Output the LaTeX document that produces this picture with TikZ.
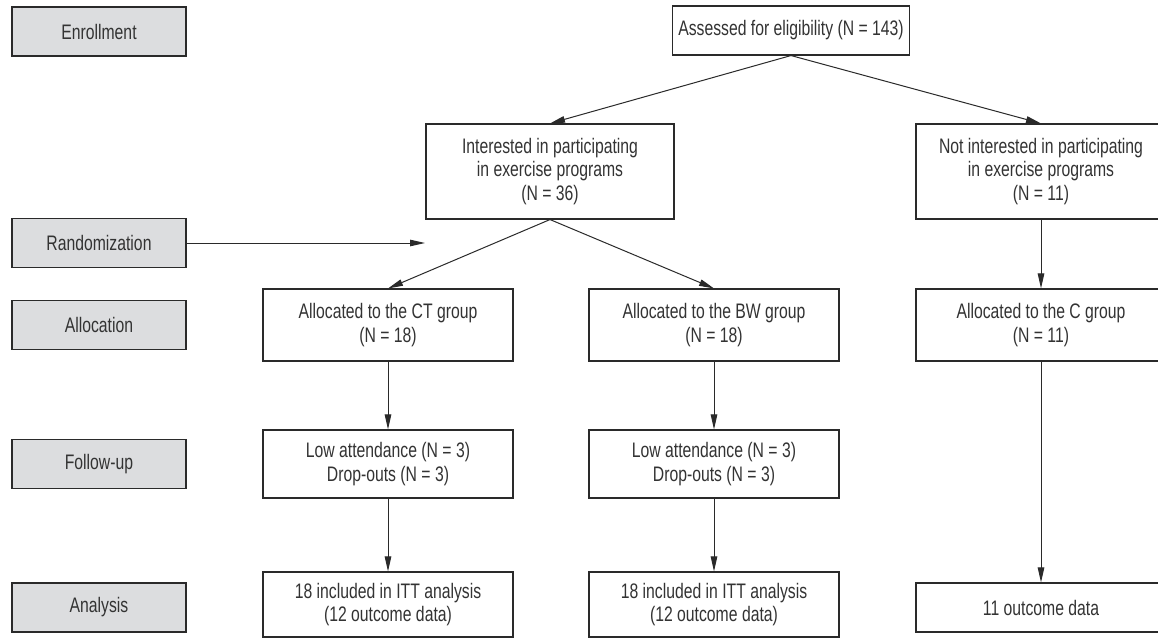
\documentclass[tikz,border=0pt]{standalone}
\usepackage{fontspec}
\setmainfont{Liberation Sans}[FakeStretch=0.75]
\usetikzlibrary{arrows.meta}
\definecolor{greyfill}{HTML}{DCDDDF}
\definecolor{txt}{HTML}{333333}
\definecolor{ln}{HTML}{2A2A2A}
\begin{document}
\begin{tikzpicture}[x=1pt,y=-1pt,font=\fontsize{21}{23.5}\selectfont,
  box/.style={draw=ln,line width=1.1pt,fill=white,align=center,inner sep=0pt,text=txt},
  stagebox/.style={box,fill=greyfill,minimum width=174pt,minimum height=49pt},
  arr/.style={draw=ln,line width=1pt,-{Triangle[length=15pt,width=6.5pt]}}]
\clip (0,0) rectangle (1158,639);
\fill[white] (0,0) rectangle (1158,639);
% stage labels
\node[stagebox] (enr) at (99,31.5) {Enrollment};
\node[stagebox] (rand) at (99,243) {Randomization};
\node[stagebox] (alloc) at (99,325) {Allocation};
\node[stagebox] (fu) at (99,464) {Follow-up};
\node[stagebox] (ana) at (99,607.5) {Analysis};
% flow boxes
\node[box,minimum width=237pt,minimum height=49pt] (top) at (791,30.5) {Assessed for eligibility (N = 143)};
\node[box,minimum width=248pt,minimum height=95pt] (int) at (550,171.5) {Interested in participating\\in exercise programs\\(N = 36)};
\node[box,minimum width=250pt,minimum height=95pt] (nint) at (1041,171.5) {Not interested in participating\\in exercise programs\\(N = 11)};
\node[box,minimum width=250pt,minimum height=72pt] (act) at (388,325) {Allocated to the CT group\\(N = 18)};
\node[box,minimum width=250pt,minimum height=72pt] (abw) at (714,325) {Allocated to the BW group\\(N = 18)};
\node[box,minimum width=250pt,minimum height=72pt] (ac) at (1041,325) {Allocated to the C group\\(N = 11)};
\node[box,minimum width=250pt,minimum height=68pt] (fct) at (388,464) {Low attendance (N = 3)\\Drop-outs (N = 3)};
\node[box,minimum width=250pt,minimum height=68pt] (fbw) at (714,464) {Low attendance (N = 3)\\Drop-outs (N = 3)};
\node[box,minimum width=250pt,minimum height=65pt] (nct) at (388,604.5) {18 included in ITT analysis\\(12 outcome data)};
\node[box,minimum width=250pt,minimum height=65pt] (nbw) at (714,604.5) {18 included in ITT analysis\\(12 outcome data)};
\node[box,minimum width=250pt,minimum height=49pt] (nc) at (1041,607.5) {11 outcome data};
\coordinate (randend) at (425,243);
% connectors
\draw[arr] (top.south) -- (int.north);
\draw[arr] (top.south) -- (nint.north);
\draw[arr] (rand.east) -- (randend);
\draw[arr] (int.south) -- (act.north);
\draw[arr] (int.south) -- (abw.north);
\draw[arr] (nint.south) -- (ac.north);
\draw[arr] (act.south) -- (fct.north);
\draw[arr] (abw.south) -- (fbw.north);
\draw[arr] (fct.south) -- (nct.north);
\draw[arr] (fbw.south) -- (nbw.north);
\draw[arr] (ac.south) -- (nc.north);
\end{tikzpicture}
\end{document}
